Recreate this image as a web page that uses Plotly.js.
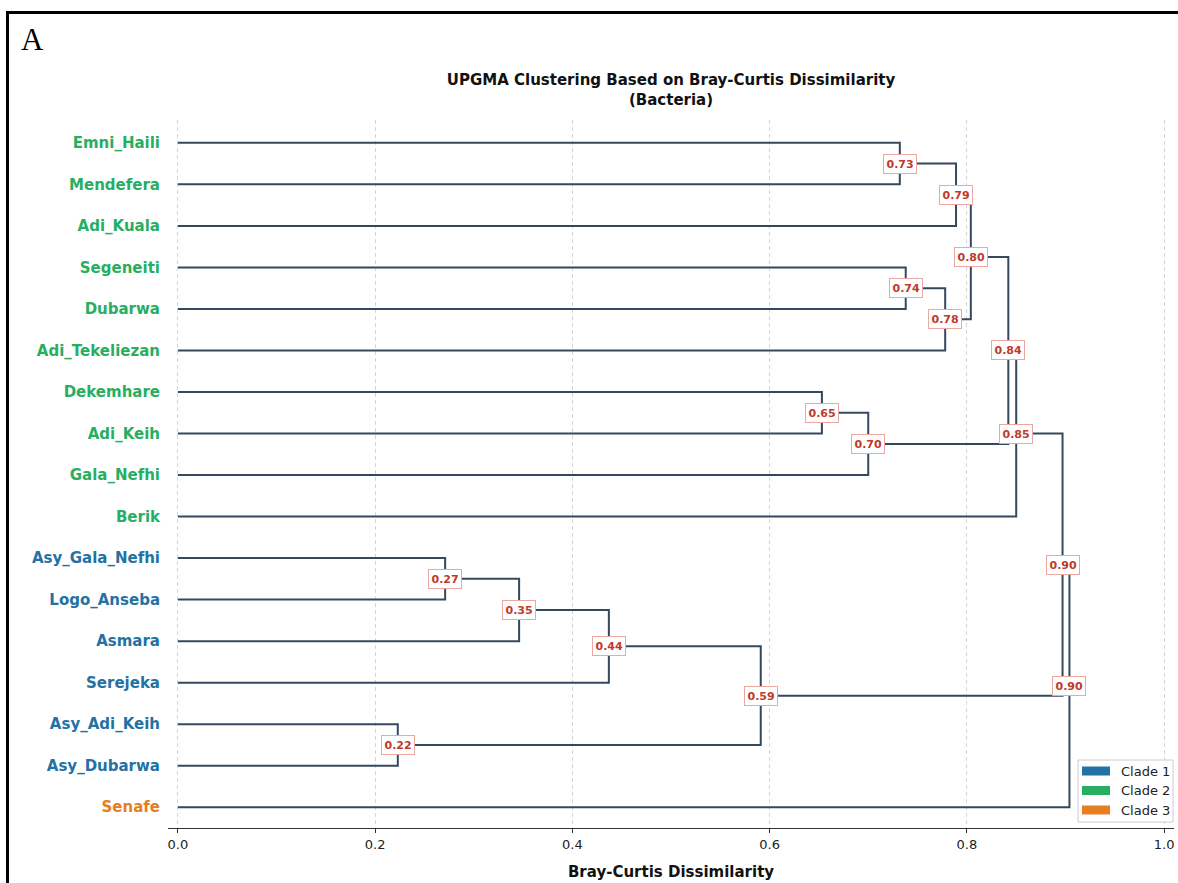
<!DOCTYPE html>
<html>
<head>
<meta charset="utf-8">
<script src="https://cdn.plot.ly/plotly-3.0.1.min.js"></script>
<style>
  html, body { margin: 0; padding: 0; background: #ffffff; }
  #chart { width: 1178px; height: 883px; }
</style>
</head>
<body>
<div id="chart"></div>
<script>
// ---------------- data ----------------
const leafLabels = ["Emni_Haili", "Mendefera", "Adi_Kuala", "Segeneiti", "Dubarwa", "Adi_Tekeliezan",
  "Dekemhare", "Adi_Keih", "Gala_Nefhi", "Berik", "Asy_Gala_Nefhi", "Logo_Anseba", "Asmara",
  "Serejeka", "Asy_Adi_Keih", "Asy_Dubarwa", "Senafe"];
const leafClades = [2, 2, 2, 2, 2, 2, 2, 2, 2, 2, 1, 1, 1, 1, 1, 1, 3];
// merges (scipy style: leaves are nodes 0..16, merge k creates node 17+k)
const mergeLeft   = [0, 17, 3, 19, 18, 6, 22, 21, 24, 10, 26, 27, 14, 28, 25, 31];
const mergeRight  = [1, 2, 4, 5, 20, 7, 8, 23, 9, 11, 12, 13, 15, 29, 30, 16];
const mergeHeight = [0.732, 0.789, 0.738, 0.778, 0.804, 0.653, 0.700, 0.842, 0.850,
  0.271, 0.346, 0.437, 0.223, 0.591, 0.897, 0.904];
const cladeNames  = ["Clade 1", "Clade 2", "Clade 3"];
const cladeColors = ["#2471a3", "#27ae60", "#e67e22"];
const xTicks = [0.0, 0.2, 0.4, 0.6, 0.8, 1.0];

// ---------------- build tree geometry ----------------
const nodePos = leafLabels.map((_, i) => i);
const nodeH = leafLabels.map(() => 0);
const lx = [], ly = [];
const annotations = [];
for (let k = 0; k < mergeHeight.length; k++) {
  const l = mergeLeft[k], r = mergeRight[k], h = mergeHeight[k];
  const pl = nodePos[l], pr = nodePos[r];
  lx.push(nodeH[l], h, h, nodeH[r], null);
  ly.push(pl, pl, pr, pr, null);
  const p = (pl + pr) / 2;
  nodePos.push(p);
  nodeH.push(h);
  annotations.push({
    x: h, y: p, xref: "x", yref: "y", showarrow: false,
    text: "<b>" + h.toFixed(2) + "</b>",
    font: { family: "DejaVu Sans", size: 11, color: "#c0392b" },
    bgcolor: "#ffffff", bordercolor: "#eba7a0", borderwidth: 1, borderpad: 2.5,
    xanchor: "center", yanchor: "middle"
  });
}

// ---------------- page geometry helpers (paper coords) ----------------
const W = 1178, H = 883;
const mL = 168, mR = 4, mT = 120, mB = 55;
const pw = W - mL - mR, ph = H - mT - mB;
const px = v => (v - mL) / pw;
const py = v => (H - mB - v) / ph;

const shapes = [];
// outer figure frame (top + left)
shapes.push({ type: "line", xref: "paper", yref: "paper", x0: px(7.5), x1: px(1180), y0: py(12.5), y1: py(12.5),
  line: { color: "#000000", width: 3 } });
shapes.push({ type: "line", xref: "paper", yref: "paper", x0: px(7.5), x1: px(7.5), y0: py(11), y1: py(890),
  line: { color: "#000000", width: 3 } });

// legend box
shapes.push({ type: "rect", xref: "paper", yref: "paper", x0: px(1078), x1: px(1173), y0: py(760), y1: py(822),
  line: { color: "#cccccc", width: 1 }, fillcolor: "rgba(255,255,255,0.9)", layer: "above" });
cladeNames.forEach((name, i) => {
  const yc = 771 + i * 19.5;
  shapes.push({ type: "rect", xref: "paper", yref: "paper", x0: px(1082), x1: px(1110), y0: py(yc - 4.5), y1: py(yc + 4.5),
    line: { width: 0 }, fillcolor: cladeColors[i], layer: "above" });
  annotations.push({ xref: "paper", yref: "paper", x: px(1119), y: py(yc), text: name, showarrow: false,
    xanchor: "left", yanchor: "middle", font: { family: "DejaVu Sans", size: 13, color: "#222222" } });
});

// panel letter
annotations.push({ xref: "paper", yref: "paper", x: px(19), y: py(40), text: "A", showarrow: false,
  xanchor: "left", yanchor: "middle", font: { family: "Liberation Serif", size: 31, color: "#000000" } });

// ---------------- traces ----------------
const traces = [{
  type: "scatter", mode: "lines", x: lx, y: ly,
  line: { color: "#34495e", width: 2 }, hoverinfo: "skip", showlegend: false
}];

const tickText = leafLabels.map((name, i) =>
  "<b><span style=\"color:" + cladeColors[leafClades[i] - 1] + "\">" + name + "</span></b>");

const layout = {
  width: W, height: H,
  margin: { l: mL, r: mR, t: mT, b: mB, pad: 0 },
  paper_bgcolor: "#ffffff", plot_bgcolor: "#ffffff",
  showlegend: false,
  font: { family: "DejaVu Sans", color: "#222222" },
  title: {
    text: "<b>UPGMA Clustering Based on Bray-Curtis Dissimilarity<br>(Bacteria)</b>",
    font: { family: "DejaVu Sans", size: 15, color: "#111111", lineposition: "none" },
    x: (mL + pw / 2) / W, xanchor: "center", xref: "container",
    y: 1 - 85 / H, yanchor: "top", yref: "container"
  },
  xaxis: {
    range: [-0.01, 1.01], tickvals: xTicks, ticktext: xTicks.map(v => v.toFixed(1)),
    showgrid: true, gridcolor: "#d6d6d6", griddash: "4px,3px", gridwidth: 1,
    zeroline: false, showline: true, linecolor: "#333333", linewidth: 1.2,
    ticks: "outside", ticklen: 4, tickwidth: 1, tickcolor: "#333333",
    tickfont: { family: "DejaVu Sans", size: 13, color: "#222222" },
    title: { text: "<b>Bray-Curtis Dissimilarity</b>", font: { family: "DejaVu Sans", size: 15, color: "#111111" }, standoff: 15 },
    fixedrange: true
  },
  yaxis: {
    range: [16.5, -0.55], tickvals: leafLabels.map((_, i) => i), ticktext: tickText,
    showgrid: false, zeroline: false, showline: false, ticks: "",
    ticklabelstandoff: 7,
    tickfont: { family: "DejaVu Sans", size: 15 },
    fixedrange: true
  },
  shapes: shapes,
  annotations: annotations
};

Plotly.newPlot("chart", traces, layout, { staticPlot: true, displayModeBar: false });
</script>
</body>
</html>
